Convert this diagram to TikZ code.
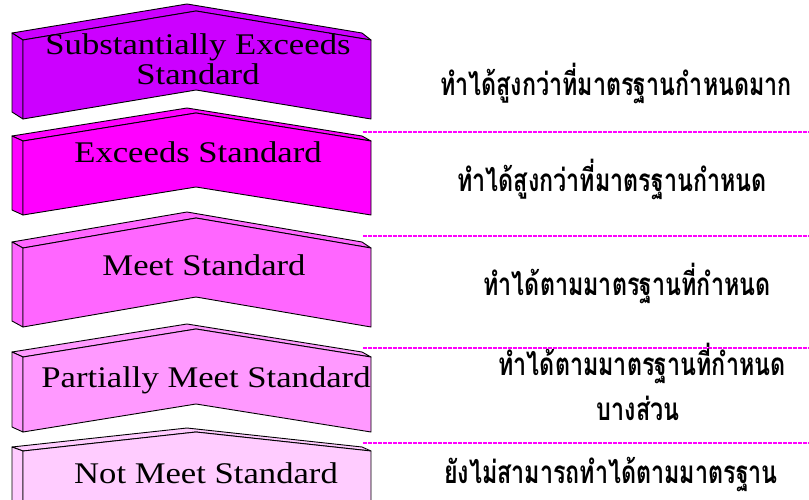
\documentclass[tikz,border=0pt]{standalone}
\usepackage{fontspec}
\usepackage{graphicx}
\setmainfont{Liberation Serif}
\newfontfamily\thaifont[Script=Thai]{Loma}
\definecolor{lvA}{RGB}{204,0,255}
\definecolor{lvB}{RGB}{255,0,255}
\definecolor{lvC}{RGB}{255,102,255}
\definecolor{lvD}{RGB}{255,153,255}
\definecolor{lvE}{RGB}{255,204,255}
\definecolor{sepline}{RGB}{255,0,255}
\newcommand{\ensc}[1]{\scalebox{1.155}[1]{#1}}
\newcommand{\thsc}[1]{\scalebox{1}[1.35]{#1}}
\tikzset{
  boxline/.style={draw=black, line width=0.9pt, line join=round},
  entext/.style={anchor=base, inner sep=0pt, font=\fontsize{30}{31}\selectfont},
  thtext/.style={anchor=base, inner sep=0pt, font=\thaifont\bfseries\fontsize{23.3}{25}\selectfont},
  sep/.style={draw=sepline, line width=1.2pt, dash pattern=on 4pt off 1pt}
}
% #1 colour, #2 top y (front, left), #3 rise of chevron, #4 height, #5 depth dy
\newcommand{\chevbox}[5]{%
  \pgfmathsetmacro\cya{#2}%
  \pgfmathsetmacro\cyb{#2-#3}%
  \pgfmathsetmacro\cyc{#2+#4}%
  \pgfmathsetmacro\cyd{#2+#4-#3}%
  \pgfmathsetmacro\cba{#2-#5}%
  \pgfmathsetmacro\cbb{#2-#3-#5}%
  \pgfmathsetmacro\cbc{#2+#4-#5}%
  % top face
  \filldraw[fill=#1, boxline] (23,\cya) -- (12,\cba) -- (187,\cbb) -- (362,\cba) -- (371,\cya) -- (196,\cyb) -- cycle;
  % left side face
  \filldraw[fill=#1, boxline] (23,\cya) -- (12,\cba) -- (12,\cbc) -- (23,\cyc) -- cycle;
  % front face
  \filldraw[fill=#1, boxline] (23,\cya) -- (196,\cyb) -- (371,\cya) -- (371,\cyc) -- (196,\cyd) -- (23,\cyc) -- cycle;
}
\begin{document}
\begin{tikzpicture}[x=1pt,y=-1pt]
\useasboundingbox (0,0) rectangle (809,500);
\clip (0,0) rectangle (809,500);
\fill[white] (0,0) rectangle (809,500);

\chevbox{lvA}{40}{29}{79}{7}
\chevbox{lvB}{141}{28}{74}{5}
\chevbox{lvC}{248}{30}{79}{6}
\chevbox{lvD}{357}{28}{75}{5}
\chevbox{lvE}{451}{19}{75}{4}

\node[entext] (e1a) at (198,55) {\ensc{Substantially Exceeds}};
\node[entext] (e1b) at (198,85) {\ensc{Standard}};
\node[entext] (e2) at (198,163) {\ensc{Exceeds Standard}};
\node[entext] (e3) at (204,275) {\ensc{Meet Standard}};
\node[entext] (e4) at (206,387) {\ensc{Partially Meet Standard}};
\node[entext] (e5) at (206,483) {\ensc{Not Meet Standard}};

\coordinate (s1a) at (363,132); \coordinate (s1b) at (809,132);
\coordinate (s2a) at (363,236); \coordinate (s2b) at (809,236);
\coordinate (s3a) at (363,348); \coordinate (s3b) at (809,348);
\coordinate (s4a) at (363,443); \coordinate (s4b) at (809,443);
\draw[sep] (s1a) -- (s1b);
\draw[sep] (s2a) -- (s2b);
\draw[sep] (s3a) -- (s3b);
\draw[sep] (s4a) -- (s4b);

\node[thtext] (t1) at (616,96) {\thsc{ทำได้สูงกว่าที่มาตรฐานกำหนดมาก}};
\node[thtext] (t2) at (612,192) {\thsc{ทำได้สูงกว่าที่มาตรฐานกำหนด}};
\node[thtext] (t3) at (627,295) {\thsc{ทำได้ตามมาตรฐานที่กำหนด}};
\node[thtext] (t4a) at (642,375) {\thsc{ทำได้ตามมาตรฐานที่กำหนด}};
\node[thtext] (t4b) at (638,420) {\thsc{บางส่วน}};
\node[thtext] (t5) at (611,483) {\thsc{ยังไม่สามารถทำได้ตามมาตรฐาน}};
\end{tikzpicture}
\end{document}
